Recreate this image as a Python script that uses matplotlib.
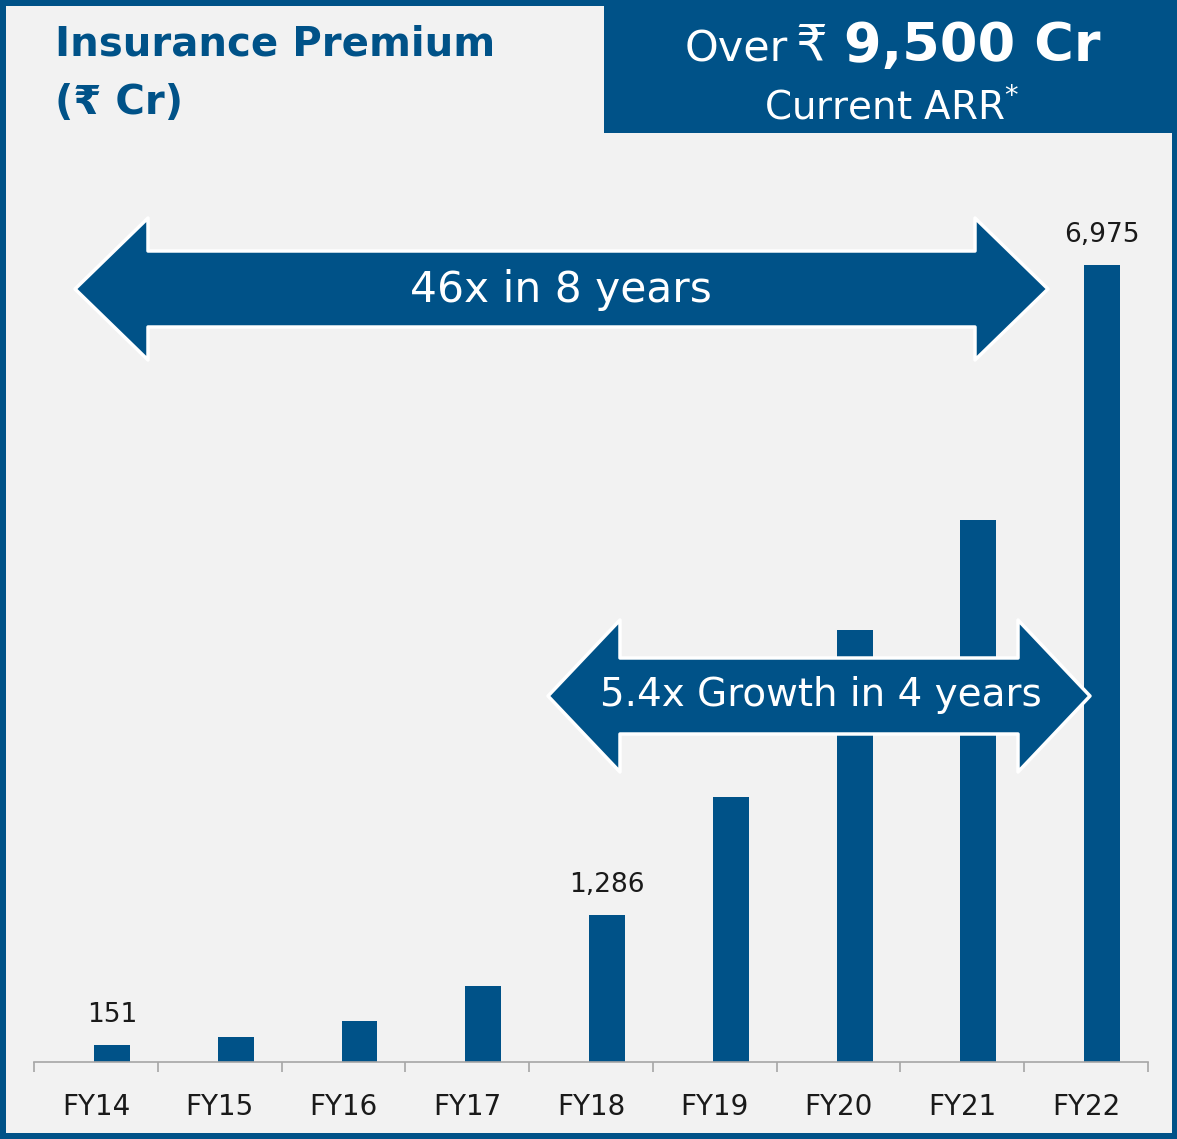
import matplotlib.pyplot as plt
from matplotlib.patches import Polygon, Rectangle

# data
years = ['FY14', 'FY15', 'FY16', 'FY17', 'FY18', 'FY19', 'FY20', 'FY21', 'FY22']
premium = [151, 219, 359, 665, 1286, 2319, 3780, 4743, 6975]
labelled = {'FY14': '151', 'FY18': '1,286', 'FY22': '6,975'}

BLUE = '#005288'
BG = '#F2F2F2'
W, H = 1177, 1139

plt.rcParams['font.family'] = ['DejaVu Sans']


def fx(px):
    return px / W


def fy(py):
    return 1 - py / H


def double_arrow(fig, x0, x1, yc, head, shaft, half):
    pts = [(x0, yc), (x0 + head, yc - half), (x0 + head, yc - shaft),
           (x1 - head, yc - shaft), (x1 - head, yc - half), (x1, yc),
           (x1 - head, yc + half), (x1 - head, yc + shaft),
           (x0 + head, yc + shaft), (x0 + head, yc + half)]
    pts = [(fx(a), fy(b)) for a, b in pts]
    fig.add_artist(Polygon(pts, closed=True, transform=fig.transFigure,
                           facecolor=BLUE, edgecolor='white', linewidth=2.5,
                           joinstyle='round', zorder=5))


fig = plt.figure(figsize=(W / 100, H / 100), dpi=100, facecolor=BG)

ax = fig.add_axes([fx(34), 77 / H, (1148 - 34) / W, (1062 - 150) / H])
ax.set_facecolor('none')
x = list(range(len(years)))
bars = ax.bar([i + 0.13 for i in x], premium, width=0.29, color=BLUE, zorder=2)
ax.set_xlim(-0.5, len(years) - 0.5)
ax.set_ylim(0, 6975 * (1062 - 150) / (1062 - 265))

for s in ['top', 'right', 'left']:
    ax.spines[s].set_visible(False)
ax.spines['bottom'].set_color('#A6A6A6')
ax.spines['bottom'].set_linewidth(1.2)
ax.set_yticks([])
ax.set_xticks([i - 0.5 for i in range(len(years) + 1)])
ax.set_xticklabels([])
ax.tick_params(axis='x', which='major', length=7, color='#A6A6A6', width=1.2)
ax.set_xticks(x, minor=True)
ax.set_xticklabels(years, minor=True, fontsize=20, color='#1a1a1a')
ax.tick_params(axis='x', which='minor', length=0, pad=22)

for b, yr in zip(bars, years):
    if yr in labelled:
        ax.annotate(labelled[yr], (b.get_x() + b.get_width() / 2, b.get_height()),
                    xytext=(0, 12), textcoords='offset points', ha='center',
                    va='bottom', fontsize=19, color='#1a1a1a')

# arrows
double_arrow(fig, 75, 1048, 289, 73, 38, 71)
fig.text(fx(561), fy(290), '46x in 8 years', color='white', fontsize=30.5,
         ha='center', va='center', zorder=6)
double_arrow(fig, 548, 1090, 696, 72, 38, 76)
fig.text(fx(821), fy(695), '5.4x Growth in 4 years', color='white', fontsize=28,
         ha='center', va='center', zorder=6)

# header
fig.text(fx(55), fy(45), 'Insurance Premium', color=BLUE, fontsize=29,
         fontweight='bold', ha='left', va='center')
fig.text(fx(55), fy(103), '(₹ Cr)', color=BLUE, fontsize=29,
         fontweight='bold', ha='left', va='center')

fig.add_artist(Rectangle((fx(604), fy(133)), fx(W - 604), 133 / H,
                         transform=fig.transFigure, facecolor=BLUE,
                         edgecolor='none', zorder=3))
fig.text(fx(685), fy(50), 'Over', color='white', fontsize=31,
         ha='left', va='center', zorder=4)
fig.text(fx(795), fy(46), '₹', color='white', fontsize=36,
         ha='left', va='center', zorder=4)
fig.text(fx(1100), fy(46), '9,500 Cr', color='white', fontsize=39,
         fontweight='bold', ha='right', va='center', zorder=4)
fig.text(fx(892), fy(107), 'Current ARR$^{*}$', color='white', fontsize=28,
         ha='center', va='center', zorder=4)

# frame
for r in [(0, 0, W, 6), (0, 0, 6, H), (0, H - 6, W, 6), (W - 5, 0, 5, H)]:
    fig.add_artist(Rectangle((fx(r[0]), fy(r[1] + r[3])), fx(r[2]), r[3] / H,
                             transform=fig.transFigure, facecolor=BLUE,
                             edgecolor='none', zorder=7))

fig.savefig('out.png', dpi=100, facecolor=BG)
